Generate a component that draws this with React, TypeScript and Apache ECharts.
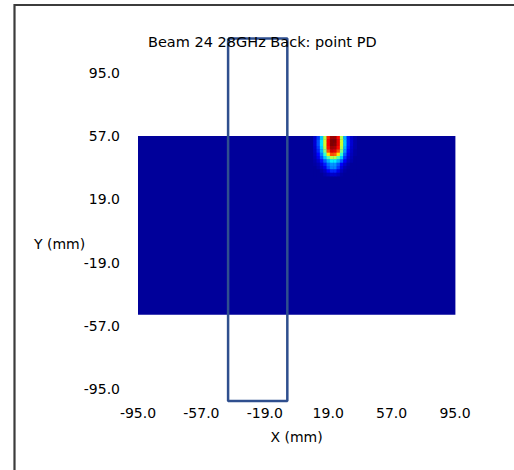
import React, { useEffect, useRef } from "react";
import * as echarts from "echarts";

const titleText = "Beam 24 28GHz Back: point PD";
const xAxisName = "X (mm)";
const yAxisName = "Y (mm)";
const axisMin = -95;
const axisMax = 95;
const axisStep = 38;

// measured field extent (mm) and its uniform background level
const fieldXRange = [-95, 95];
const fieldYRange = [-50, 57];
const fieldBaseValue = 0;

// hotspot samples (2 mm cells), normalized power density
const hotCell = 2;
const hotX = [11, 13, 15, 17, 19, 21, 23, 25, 27, 29, 31, 33, 35];
const hotY = [56, 54, 52, 50, 48, 46, 44, 42, 40, 38, 36, 34];
const hotValues = [
  [0.06, 0.18, 0.32, 0.55, 0.85, 0.97, 0.97, 0.87, 0.55, 0.3, 0.15, 0.06, 0.02],
  [0.07, 0.2, 0.35, 0.58, 0.88, 1.0, 1.0, 0.9, 0.58, 0.32, 0.16, 0.07, 0.02],
  [0.07, 0.2, 0.35, 0.58, 0.88, 1.0, 0.99, 0.9, 0.58, 0.32, 0.16, 0.07, 0.02],
  [0.06, 0.18, 0.33, 0.55, 0.86, 0.97, 0.96, 0.87, 0.55, 0.3, 0.15, 0.06, 0.02],
  [0.05, 0.16, 0.3, 0.5, 0.8, 0.92, 0.9, 0.8, 0.5, 0.27, 0.13, 0.05, 0.01],
  [0.04, 0.13, 0.25, 0.42, 0.65, 0.8, 0.78, 0.65, 0.42, 0.22, 0.1, 0.04, 0.01],
  [0.03, 0.1, 0.2, 0.32, 0.45, 0.55, 0.55, 0.45, 0.32, 0.17, 0.07, 0.03, 0],
  [0.02, 0.06, 0.14, 0.22, 0.3, 0.36, 0.36, 0.3, 0.22, 0.12, 0.05, 0.02, 0],
  [0.01, 0.03, 0.08, 0.15, 0.23, 0.27, 0.27, 0.21, 0.12, 0.06, 0.02, 0, 0],
  [0, 0.02, 0.05, 0.1, 0.2, 0.25, 0.25, 0.18, 0.08, 0.03, 0.01, 0, 0],
  [0, 0, 0.02, 0.05, 0.12, 0.16, 0.16, 0.1, 0.04, 0.01, 0, 0, 0],
  [0, 0, 0, 0.02, 0.04, 0.06, 0.06, 0.04, 0.01, 0, 0, 0, 0],
];

// outlined phone-position box (mm)
const boxX = [-41, -5.5];
const boxY = [-102, 115.5];

const jet = [
  "#00009a",
  "#0000ff",
  "#0080ff",
  "#00ffff",
  "#80ff80",
  "#ffff00",
  "#ff8000",
  "#ff0000",
  "#800000",
];

export default function App() {
  const ref = useRef<HTMLDivElement>(null);
  useEffect(() => {
    if (!ref.current) return;
    const chart = echarts.init(ref.current, null, { renderer: "svg" });

    const cells: number[][] = [
      [fieldXRange[0], fieldXRange[1], fieldYRange[0], fieldYRange[1], fieldBaseValue],
    ];
    hotY.forEach((y, r) => {
      hotX.forEach((x, c) => {
        cells.push([
          x - hotCell / 2,
          x + hotCell / 2,
          y - hotCell / 2,
          y + hotCell / 2,
          hotValues[r][c],
        ]);
      });
    });

    const boxData = [
      [boxX[0], boxY[1]],
      [boxX[1], boxY[1]],
      [boxX[1], boxY[0]],
      [boxX[0], boxY[0]],
      [boxX[0], boxY[1]],
    ];

    const labelStyle = {
      color: "#000",
      fontFamily: "DejaVu Sans",
      fontSize: 14,
    };

    chart.setOption({
      animation: false,
      backgroundColor: "#fff",
      title: {
        text: titleText,
        left: 143,
        top: 29,
        textStyle: { ...labelStyle, fontSize: 14.5, fontWeight: "normal" },
      },
      grid: { left: 138, top: 72.7, width: 317, height: 316.6 },
      xAxis: {
        type: "value",
        min: axisMin,
        max: axisMax,
        interval: axisStep,
        name: xAxisName,
        nameLocation: "middle",
        nameGap: 41,
        nameTextStyle: labelStyle,
        axisLine: { show: false },
        axisTick: { show: false },
        splitLine: { show: false },
        axisLabel: {
          ...labelStyle,
          margin: 17,
          formatter: (v: number) => v.toFixed(1),
        },
      },
      yAxis: {
        type: "value",
        min: axisMin,
        max: axisMax,
        interval: axisStep,
        axisLine: { show: false },
        axisTick: { show: false },
        splitLine: { show: false },
        axisLabel: {
          ...labelStyle,
          margin: 18,
          formatter: (v: number) => v.toFixed(1),
        },
      },
      visualMap: {
        type: "continuous",
        show: false,
        min: 0,
        max: 1,
        dimension: 4,
        seriesIndex: 0,
        inRange: { color: jet },
      },
      graphic: [
        {
          type: "rect",
          shape: { x: 14.5, y: 5, width: 700, height: 700 },
          style: { fill: "none", stroke: "#3c3c3c", lineWidth: 2.2 },
          silent: true,
        },
        {
          type: "text",
          left: 34,
          top: 237,
          style: {
            text: yAxisName,
            fill: "#000",
            font: "14px 'DejaVu Sans'",
          },
        },
      ],
      series: [
        {
          type: "custom",
          coordinateSystem: "cartesian2d",
          encode: { x: [0, 1], y: [2, 3] },
          data: cells,
          renderItem: (params: any, api: any) => {
            const p0 = api.coord([api.value(0), api.value(3)]);
            const p1 = api.coord([api.value(1), api.value(2)]);
            return {
              type: "rect",
              shape: {
                x: p0[0],
                y: p0[1],
                width: p1[0] - p0[0] + 0.4,
                height: p1[1] - p0[1] + 0.4,
              },
              style: { fill: api.visual("color") },
            };
          },
        },
        {
          type: "line",
          data: boxData,
          clip: false,
          symbol: "none",
          silent: true,
          lineStyle: { color: "#2f4f8e", width: 2.5 },
        },
      ],
    });
    return () => chart.dispose();
  }, []);
  return (
    <div
      ref={ref}
      style={{ position: "absolute", left: 0, top: 0, width: 514, height: 470 }}
    />
  );
}
